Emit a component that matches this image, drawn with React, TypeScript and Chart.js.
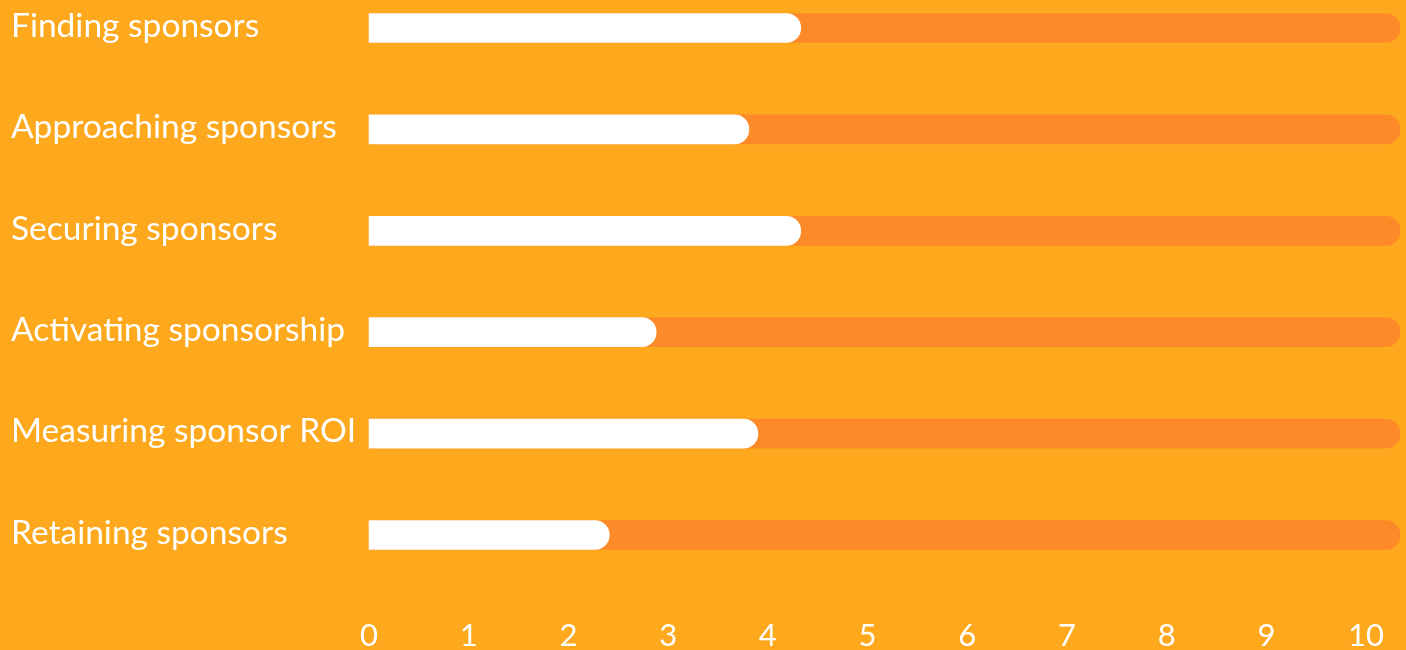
import React, { useEffect, useRef } from "react";
import { Chart, registerables } from "chart.js";

Chart.register(...registerables);

const categories = [
  "Finding sponsors",
  "Approaching sponsors",
  "Securing sponsors",
  "Activating sponsorship",
  "Measuring sponsor ROI",
  "Retaining sponsors",
];
const scores = [4.33, 3.81, 4.33, 2.88, 3.9, 2.41];
const axisMax = 10.34;
const trackValues = [axisMax, axisMax, axisMax, axisMax, axisMax, axisMax];
const tickValues = [0, 1, 2, 3, 4, 5, 6, 7, 8, 9, 10];

const BG = "#FEA81D";
const TRACK = "#FD8A28";
const FONT = "Lato";

export default function App() {
  const ref = useRef<HTMLCanvasElement | null>(null);

  useEffect(() => {
    document.body.style.margin = "0";
    const canvas = ref.current;
    if (!canvas) return;
    const chart = new Chart(canvas, {
      type: "bar",
      data: {
        labels: categories,
        datasets: [
          {
            data: scores,
            backgroundColor: "#FFFFFF",
            borderWidth: 0,
            borderRadius: 15,
            borderSkipped: "start",
            barThickness: 29,
            grouped: false,
            clip: false,
          } as any,
          {
            data: trackValues,
            backgroundColor: TRACK,
            borderWidth: 0,
            borderRadius: 15,
            borderSkipped: "start",
            barThickness: 29,
            grouped: false,
            clip: false,
          } as any,
        ],
      },
      options: {
        indexAxis: "y",
        responsive: false,
        animation: false,
        events: [],
        layout: { padding: { left: 11, top: 28, right: 6, bottom: 0 } },
        plugins: { legend: { display: false }, tooltip: { enabled: false } },
        scales: {
          x: {
            type: "linear",
            min: 0,
            max: axisMax,
            grid: { display: false, drawTicks: false },
            border: { display: false },
            afterBuildTicks: (axis: any) => {
              axis.ticks = tickValues.map((v) => ({ value: v }));
            },
            afterFit: (scale: any) => {
              scale.height = 115;
              scale.paddingLeft = 0;
              scale.paddingRight = 0;
            },
            ticks: {
              color: "#FFFFFF",
              font: { family: FONT, size: 31 },
              padding: 82,
              maxRotation: 0,
              autoSkip: false,
            },
          },
          y: {
            type: "category",
            offset: false,
            grid: { display: false, drawTicks: false },
            border: { display: false },
            afterFit: (scale: any) => {
              scale.width = 358;
              scale.paddingTop = 0;
              scale.paddingBottom = 0;
            },
            ticks: {
              color: "#FFFFFF",
              font: { family: FONT, size: 33.5 },
              crossAlign: "far",
              padding: 0,
              labelOffset: -2,
              autoSkip: false,
            },
          },
        },
      } as any,
    });
    return () => chart.destroy();
  }, []);

  return (
    <div style={{ width: 1406, height: 650, background: BG }}>
      <canvas ref={ref} width={1406} height={650} style={{ display: "block" }} />
    </div>
  );
}
